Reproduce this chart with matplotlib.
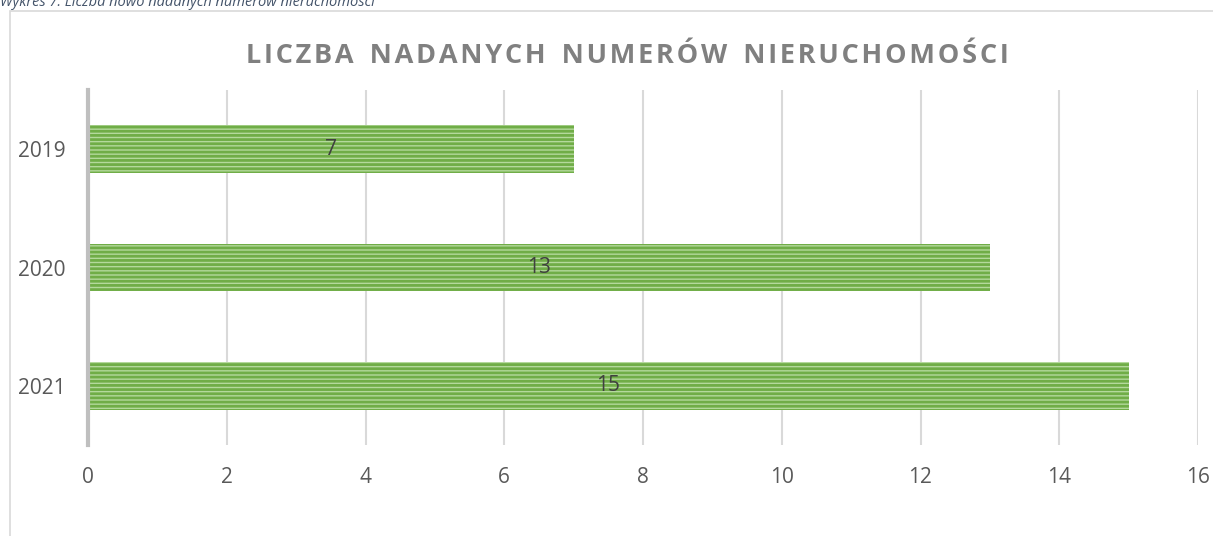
#!/usr/bin/env python3
"""
Liczba nadanych numerów nieruchomości - horizontal bar chart
"""
import matplotlib.pyplot as plt
from matplotlib.patches import Rectangle

plt.rcParams['font.family'] = ['Open Sans', 'DejaVu Sans']
plt.rcParams['hatch.linewidth'] = 2.0
plt.rcParams['hatch.color'] = '#70ad47'

# Data (top to bottom: 2019, 2020, 2021)
years = ['2019', '2020', '2021']
counts = [7, 13, 15]
x_ticks = [0, 2, 4, 6, 8, 10, 12, 14, 16]

title = 'LICZBA NADANYCH NUMERÓW NIERUCHOMOŚCI'
caption = 'Wykres 7: Liczba nowo nadanych numerów nieruchomości'

fig = plt.figure(figsize=(12.13, 5.36), dpi=100)
ax = fig.add_axes([88 / 1213, 1 - 445 / 536, 1110 / 1213, 355 / 536])

# outer chart frame (cut by the page on right/bottom)
fig.patches.append(Rectangle((10 / 1213, -0.1), 1.2, 1 - 11 / 536 + 0.1,
                             transform=fig.transFigure, fill=False,
                             edgecolor='#d9d9d9', linewidth=1.2))

# caption, only its lower half visible
fig.text(0.0, 1 - 6 / 536, caption, ha='left', va='baseline', fontsize=10.5,
         style='italic', color='#44546a')

pos = list(range(len(years)))[::-1]
bars = ax.barh(pos, counts, height=0.4, color='#b4d99c', hatch='----',
               edgecolor='#70ad47', linewidth=0, zorder=3)
for p, v in zip(pos, counts):
    ax.text(v / 2, p, str(v), ha='center', va='center', fontsize=15,
            color='#404040', zorder=4)

ax.set_xlim(0, 16)
ax.set_ylim(-0.5, 2.5)
ax.set_xticks(x_ticks)
ax.set_xticklabels([str(t) for t in x_ticks])
ax.set_yticks(pos)
ax.set_yticklabels(years)
ax.tick_params(axis='x', length=0, pad=16, labelsize=15, labelcolor='#595959')
ax.tick_params(axis='y', length=0, pad=16, labelsize=15, labelcolor='#595959')
ax.grid(axis='x', color='#d9d9d9', linewidth=1.5, zorder=0)
for s in ['top', 'right', 'bottom']:
    ax.spines[s].set_visible(False)
ax.spines['left'].set_color('#bfbfbf')
ax.spines['left'].set_linewidth(3)
ax.spines['left'].set_zorder(5)

spaced = '\u200a'.join(title).replace('\u200a \u200a', '\u2009\u2009\u2009')
fig.text(627 / 1213, 1 - 56 / 536, spaced, ha='center', va='center',
         fontsize=19.5, fontweight='bold', color='#808080')

plt.savefig('out.png', dpi=100)
plt.close()
